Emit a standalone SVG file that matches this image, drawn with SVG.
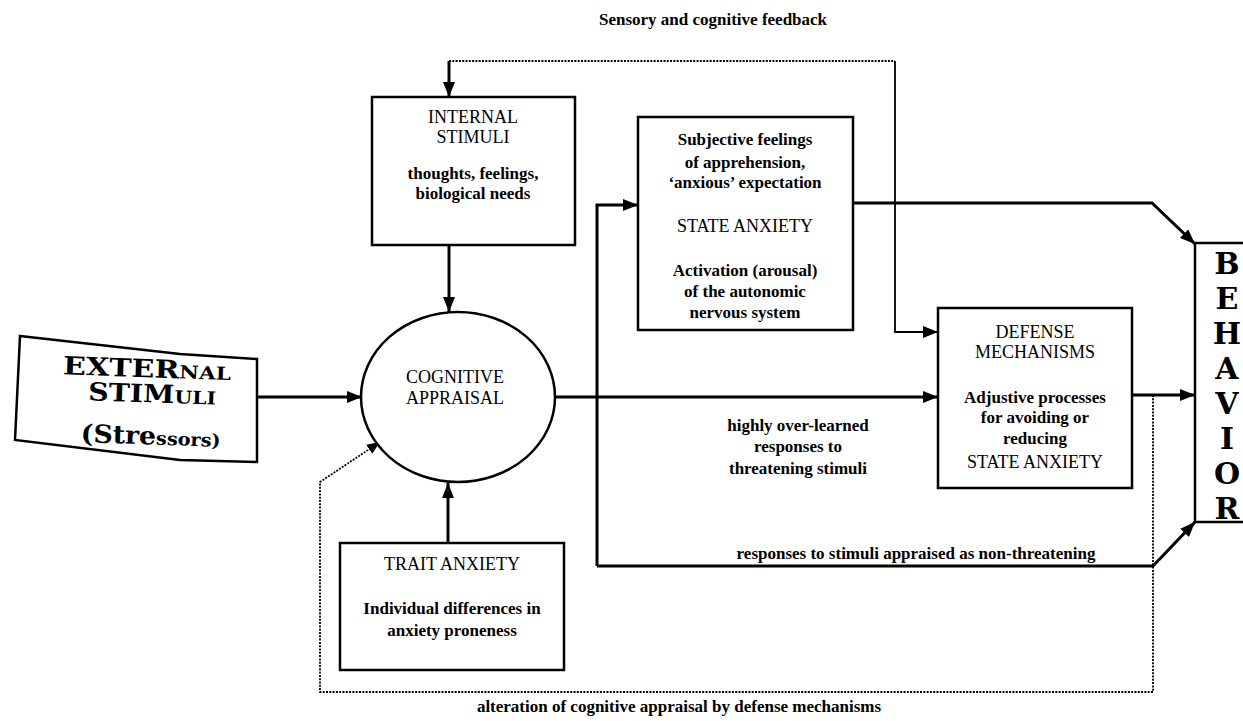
<svg xmlns="http://www.w3.org/2000/svg" width="1243" height="721" viewBox="0 0 1243 721">
  <style>
    .box { fill: #ffffff; stroke: #000000; stroke-width: 2.5; }
    .ln { fill: none; stroke: #000000; stroke-width: 3; }
    .thin { fill: none; stroke: #000000; stroke-width: 1.8; }
    .dot { fill: none; stroke: #000000; stroke-width: 1.8; stroke-dasharray: 2 1.3; }
    text { font-family: "Liberation Serif", "Times New Roman", serif; fill: #000000; text-anchor: middle; }
    .hd { font-size: 18px; }
    .bd { font-size: 17px; font-weight: bold; }
    .fancy { font-family: "DejaVu Serif", "Liberation Serif", serif; font-weight: bold; text-anchor: start; }
    .beh { font-family: "DejaVu Serif", "Liberation Serif", serif; font-weight: bold; font-size: 30px;
           writing-mode: vertical-rl; text-orientation: upright; }
  </style>
  <defs>
    <marker id="ah" markerUnits="userSpaceOnUse" markerWidth="16" markerHeight="12" refX="15" refY="6" orient="auto">
      <path d="M0,0 L15,6 L0,12 Z" fill="#000000"/>
    </marker>
    <marker id="ahs" markerUnits="userSpaceOnUse" markerWidth="14" markerHeight="12" refX="13" refY="5.5" orient="auto">
      <path d="M0,0 L13,5.5 L0,11 Z" fill="#000000"/>
    </marker>
  </defs>

  <!-- connectors -->
  <g id="connectors">
    <!-- sensory and cognitive feedback loop -->
    <path class="dot" d="M449,61 L895,61"/>
    <path class="thin" d="M895,61 L895,332 L938,332" marker-end="url(#ah)"/>
    <path class="ln" d="M449,61 L449,97" marker-end="url(#ah)"/>
    <!-- external stimuli to appraisal -->
    <path class="ln" d="M257,397 L362,397" marker-end="url(#ah)"/>
    <!-- internal stimuli to appraisal -->
    <path class="ln" d="M449,245 L449,312" marker-end="url(#ah)"/>
    <!-- trait anxiety to appraisal -->
    <path class="ln" d="M448,543 L448,483" marker-end="url(#ah)"/>
    <!-- appraisal to defense mechanisms -->
    <path class="ln" d="M555,397 L938,397" marker-end="url(#ah)"/>
    <!-- branch to state anxiety and non-threatening route -->
    <path class="ln" d="M597,566 L597,205 L638,205" marker-end="url(#ah)"/>
    <path class="ln" d="M597,566 L1153,566 L1195,522" marker-end="url(#ah)"/>
    <!-- state anxiety to behavior -->
    <path class="ln" d="M853,203 L1152,203 L1195,244" marker-end="url(#ah)"/>
    <!-- defense mechanisms to behavior -->
    <path class="ln" d="M1132,395 L1195,395" marker-end="url(#ah)"/>
    <!-- alteration of cognitive appraisal -->
    <path class="dot" d="M1153,395 L1153,692 L320,692 L320,482 L380,442" marker-end="url(#ahs)"/>
  </g>

  <!-- labels on connectors -->
  <g id="labels">
    <text class="bd" x="713" y="25" font-size="18">Sensory and cognitive feedback</text>
    <text class="bd" x="798" y="431">highly over-learned</text>
    <text class="bd" x="798" y="452">responses to</text>
    <text class="bd" x="798" y="474">threatening stimuli</text>
    <text class="bd" x="916" y="559">responses to stimuli appraised as non-threatening</text>
    <text class="bd" x="679" y="712">alteration of cognitive appraisal by defense mechanisms</text>
  </g>

  <g id="external-stimuli">
    <path class="box" d="M20,336 L180,354 L257,359 L257,462 L180,460 L15,440 Z"/>
    <g transform="rotate(2 140 400)">
      <text class="fancy" x="62" y="377" textLength="168" lengthAdjust="spacingAndGlyphs"><tspan font-size="25">EXTER</tspan><tspan font-size="18">NAL</tspan></text>
      <text class="fancy" x="88" y="402" textLength="128" lengthAdjust="spacingAndGlyphs"><tspan font-size="25">STIM</tspan><tspan font-size="18">ULI</tspan></text>
      <text class="fancy" x="82" y="444" textLength="140" lengthAdjust="spacingAndGlyphs"><tspan font-size="25">(Stre</tspan><tspan font-size="18">ssors)</tspan></text>
    </g>
  </g>

  <g id="internal-stimuli">
    <rect class="box" x="372" y="97" width="203" height="148"/>
    <text class="hd" x="473" y="123">INTERNAL</text>
    <text class="hd" x="473" y="143">STIMULI</text>
    <text class="bd" x="473" y="179">thoughts, feelings,</text>
    <text class="bd" x="473" y="199">biological needs</text>
  </g>

  <g id="cognitive-appraisal">
    <ellipse class="box" cx="458" cy="397" rx="97" ry="85"/>
    <text class="hd" x="455" y="383">COGNITIVE</text>
    <text class="hd" x="455" y="404">APPRAISAL</text>
  </g>

  <g id="trait-anxiety">
    <rect class="box" x="340" y="543" width="224" height="127"/>
    <text class="hd" x="452" y="570">TRAIT ANXIETY</text>
    <text class="bd" x="452" y="614">Individual differences in</text>
    <text class="bd" x="452" y="636">anxiety proneness</text>
  </g>

  <g id="state-anxiety">
    <rect class="box" x="638" y="117" width="215" height="213"/>
    <text class="bd" x="745" y="145">Subjective feelings</text>
    <text class="bd" x="745" y="168">of apprehension,</text>
    <text class="bd" x="745" y="188">‘anxious’ expectation</text>
    <text class="hd" x="745" y="232">STATE ANXIETY</text>
    <text class="bd" x="745" y="276">Activation (arousal)</text>
    <text class="bd" x="745" y="297">of the autonomic</text>
    <text class="bd" x="745" y="318">nervous system</text>
  </g>

  <g id="defense-mechanisms">
    <rect class="box" x="938" y="308" width="194" height="180"/>
    <text class="hd" x="1035" y="338">DEFENSE</text>
    <text class="hd" x="1035" y="358">MECHANISMS</text>
    <text class="bd" x="1035" y="403">Adjustive processes</text>
    <text class="bd" x="1035" y="423">for avoiding or</text>
    <text class="bd" x="1035" y="444">reducing</text>
    <text class="hd" x="1035" y="468">STATE ANXIETY</text>
  </g>

  <g id="behavior">
    <path class="box" d="M1250,243 L1195,243 L1195,522 L1250,522"/>
    <text class="beh" x="1227" y="386">BEHAVIOR</text>
  </g>
</svg>
